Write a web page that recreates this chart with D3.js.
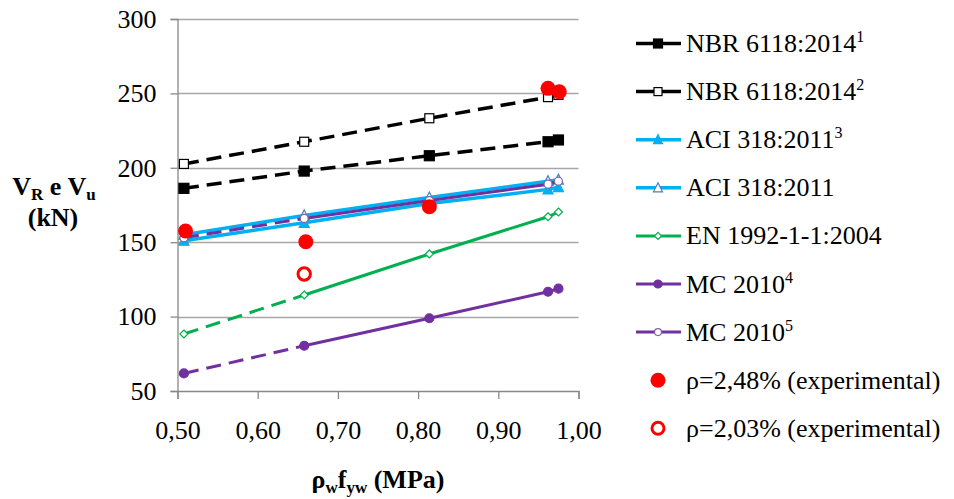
<!DOCTYPE html>
<html><head><meta charset="utf-8">
<script src="https://cdn.jsdelivr.net/npm/d3@7"></script>
<style>
html,body{margin:0;padding:0;background:#fff;}
svg text{font-family:"Liberation Serif","Times New Roman","DejaVu Serif",serif !important;}
</style></head>
<body><svg id="c" width="954" height="499"></svg>
<script>
// ---- data ----
const xValues = [0.508, 0.658, 0.814, 0.962, 0.975];
const nbr1 = [186.2, 197.8, 208.1, 217.5, 218.7];
const nbr2 = [202.6, 217.5, 233.3, 247.5, 249.0];
const aci3 = [151.0, 163.0, 176.0, 185.5, 187.0];
const aci  = [155.0, 168.0, 180.0, 191.0, 192.0];
const en   = [88.3, 114.5, 142.1, 167.1, 170.3];
const mc4  = [61.8, 80.4, 98.9, 116.7, 118.8];
const mc5  = [153.0, 166.0, 178.0, 189.0, 191.0];
const expFilledX = [0.510, 0.660, 0.814, 0.962, 0.976];
const expFilled  = [157.5, 150.3, 173.9, 253.4, 251.1];
const expOpenX = [0.658];
const expOpen  = [128.6];
const xTicks = [0.5, 0.6, 0.7, 0.8, 0.9, 1.0];
const yTicks = [50, 100, 150, 200, 250, 300];
const legendLabels = [
  ["NBR 6118:2014","1"],["NBR 6118:2014","2"],["ACI 318:2011","3"],["ACI 318:2011",""],
  ["EN 1992-1-1:2004",""],["MC 2010","4"],["MC 2010","5"],
  ["ρ=2,48% (experimental)",""],["ρ=2,03% (experimental)",""]
];

// ---- series styling ----
const series = [
  {v: nbr1, color:"#000000", w:3.5, dashTo:4, marker:"square", fill:"#000000", size:10},
  {v: nbr2, color:"#000000", w:3.5, dashTo:4, marker:"square", fill:"#ffffff", size:9},
  {v: aci3, color:"#00B0F0", w:3.5, dashTo:0, marker:"triangle", fill:"#00B0F0", size:9},
  {v: aci,  color:"#00B0F0", w:3.5, dashTo:0, marker:"triangle", fill:"#ffffff", size:9},
  {v: en,   color:"#00B050", w:3, dashTo:1, marker:"diamond", fill:"#ffffff", size:8},
  {v: mc4,  color:"#7030A0", w:3, dashTo:1, marker:"circle", fill:"#7030A0", size:9},
  {v: mc5,  color:"#7030A0", w:3, dashTo:1, marker:"circle", fill:"#ffffff", size:8}
];

const svg = d3.select("#c");
const x = d3.scaleLinear().domain([0.5, 1.0]).range([177.5, 578.5]);
const y = d3.scaleLinear().domain([50, 300]).range([391, 19]);
const fmt = d => d.toFixed(2).replace(".", ",");

// gridlines
svg.append("g").selectAll("line").data(yTicks.filter(t => t > 50)).join("line")
  .attr("x1", x(0.5)).attr("x2", x(1.0))
  .attr("y1", d => Math.round(y(d)) + 0.5).attr("y2", d => Math.round(y(d)) + 0.5)
  .attr("stroke", "#A6A6A6").attr("stroke-width", 1.3);

// y axis
const yAxis = svg.append("g").attr("transform", `translate(${x(0.5)},0)`)
  .call(d3.axisLeft(y).tickValues(yTicks).tickSize(7).tickPadding(14).tickFormat(d3.format("d")));
yAxis.select(".domain").attr("stroke", "#888").attr("stroke-width", 1.3);
yAxis.selectAll(".tick line").attr("stroke", "#888").attr("stroke-width", 1.3);
yAxis.selectAll(".tick text").attr("font-size", 26).attr("fill", "#000");

// x axis
const xAxis = svg.append("g").attr("transform", `translate(0,${y(50)})`)
  .call(d3.axisBottom(x).tickValues(xTicks).tickSize(8).tickPadding(22).tickFormat(fmt));
xAxis.select(".domain").attr("stroke", "#888").attr("stroke-width", 1.3);
xAxis.selectAll(".tick line").attr("stroke", "#888").attr("stroke-width", 1.3);
xAxis.selectAll(".tick text").attr("font-size", 26).attr("fill", "#000");

// markers
function drawMarker(g, type, cx, cy, size, stroke, fill) {
  const s = size / 2;
  if (type === "square") {
    g.append("rect").attr("x", cx - s).attr("y", cy - s).attr("width", size).attr("height", size)
      .attr("fill", fill).attr("stroke", fill === "#ffffff" ? "#000" : stroke).attr("stroke-width", 1.2);
  } else if (type === "triangle") {
    g.append("path").attr("d", `M${cx},${cy - s - 1}L${cx + s + 0.5},${cy + s}L${cx - s - 0.5},${cy + s}Z`)
      .attr("fill", fill).attr("stroke", stroke === "#00B0F0" && fill === "#ffffff" ? "#4A7EBB" : stroke).attr("stroke-width", 1.2);
  } else if (type === "diamond") {
    g.append("path").attr("d", `M${cx},${cy - s}L${cx + s},${cy}L${cx},${cy + s}L${cx - s},${cy}Z`)
      .attr("fill", fill).attr("stroke", stroke).attr("stroke-width", 1.2);
  } else if (type === "circle") {
    g.append("circle").attr("cx", cx).attr("cy", cy).attr("r", s)
      .attr("fill", fill).attr("stroke", fill === "#ffffff" ? "#8064A2" : stroke).attr("stroke-width", 1.2);
  }
}

const line = d3.line().x(d => x(d[0])).y(d => y(d[1]));
const plot = svg.append("g");
series.forEach(s => {
  const pts = xValues.map((xv, i) => [xv, s.v[i]]);
  if (s.dashTo > 0) {
    plot.append("path").attr("d", line(pts.slice(0, s.dashTo + 1)))
      .attr("fill", "none").attr("stroke", s.color).attr("stroke-width", s.w)
      .attr("stroke-dasharray", "15,8");
  }
  if (s.dashTo < pts.length - 1) {
    plot.append("path").attr("d", line(pts.slice(s.dashTo)))
      .attr("fill", "none").attr("stroke", s.color).attr("stroke-width", s.w);
  }
  pts.forEach(p => drawMarker(plot, s.marker, x(p[0]), y(p[1]), s.size, s.color, s.fill));
});

// experimental points
plot.selectAll("circle.expf").data(expFilledX.map((xv, i) => [xv, expFilled[i]])).join("circle")
  .attr("class", "expf").attr("cx", d => x(d[0])).attr("cy", d => y(d[1])).attr("r", 7.5)
  .attr("fill", "#FF0000");
plot.selectAll("circle.expo").data(expOpenX.map((xv, i) => [xv, expOpen[i]])).join("circle")
  .attr("class", "expo").attr("cx", d => x(d[0])).attr("cy", d => y(d[1])).attr("r", 6.2)
  .attr("fill", "#fff").attr("stroke", "#FF0000").attr("stroke-width", 3);

// legend
const leg = svg.append("g");
const legTop = 43.5, legStep = 48.1;
legendLabels.forEach((lab, i) => {
  const cy = legTop + i * legStep;
  const g = leg.append("g");
  if (i < series.length) {
    const s = series[i];
    g.append("line").attr("x1", 636).attr("x2", 681).attr("y1", cy).attr("y2", cy)
      .attr("stroke", s.color).attr("stroke-width", s.w);
    drawMarker(g, s.marker, 658, cy, s.size - 1, s.color, s.fill);
  } else if (i === 7) {
    g.append("circle").attr("cx", 658).attr("cy", cy).attr("r", 7.5).attr("fill", "#FF0000");
  } else {
    g.append("circle").attr("cx", 658).attr("cy", cy).attr("r", 6).attr("fill", "#fff")
      .attr("stroke", "#FF0000").attr("stroke-width", 3);
  }
  const t = g.append("text").attr("x", 686).attr("y", cy + 8.5).attr("font-size", 26).attr("fill", "#000");
  t.append("tspan").text(lab[0]);
  if (lab[1]) t.append("tspan").attr("font-size", 16).attr("dy", -10).text(lab[1]);
});

// y axis title
const yt = svg.append("text").attr("x", 54).attr("y", 195).attr("text-anchor", "middle")
  .attr("font-size", 26).attr("font-weight", "bold").attr("fill", "#000");
yt.append("tspan").text("V");
yt.append("tspan").attr("font-size", 17).attr("dy", 5).text("R");
yt.append("tspan").attr("dy", -5).text(" e V");
yt.append("tspan").attr("font-size", 17).attr("dy", 5).text("u");
svg.append("text").attr("x", 53).attr("y", 226).attr("text-anchor", "middle")
  .attr("font-size", 26).attr("font-weight", "bold").attr("fill", "#000").text("(kN)");

// x axis title
const xt = svg.append("text").attr("x", 378).attr("y", 488).attr("text-anchor", "middle")
  .attr("font-size", 26).attr("font-weight", "bold").attr("fill", "#000");
xt.append("tspan").text("ρ");
xt.append("tspan").attr("font-size", 17).attr("dy", 5).text("w");
xt.append("tspan").attr("dy", -5).text("f");
xt.append("tspan").attr("font-size", 17).attr("dy", 5).text("yw");
xt.append("tspan").attr("dy", -5).text(" (MPa)");
</script>
</body></html>
